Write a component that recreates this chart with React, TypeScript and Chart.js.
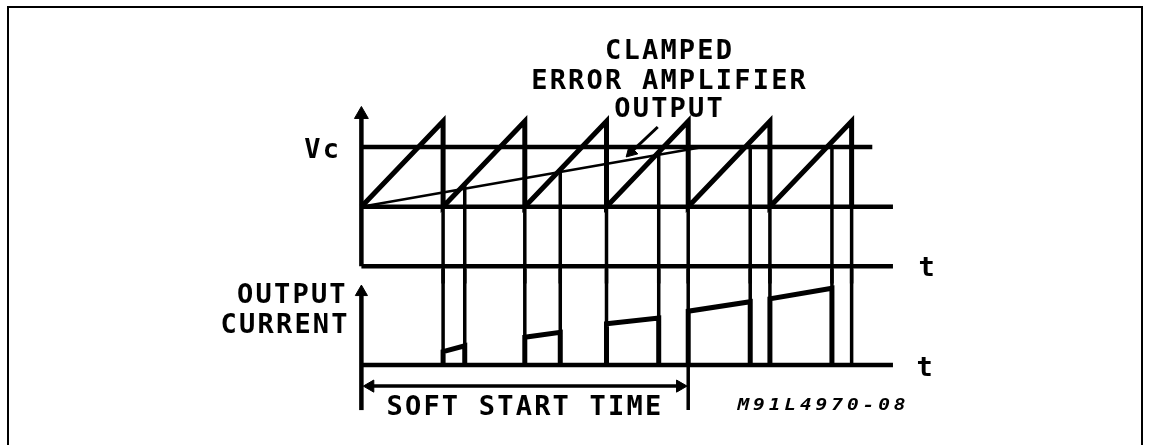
import React, { useEffect, useRef } from 'react';
import { Chart, registerables } from 'chart.js';

Chart.register(...registerables);

// Time in switching periods, voltage in ramp-amplitude units, current in arbitrary units
const resetTimes = [1, 2, 3, 4, 5, 6];
const rampLow = 0;
const rampHigh = 1;
const vcLevel = 0.7;
const clampEnd = 4.18;
const crossTimes = [1.265, 2.434, 3.639, 4.759, 5.759];
const crossLevels = [0.265, 0.434, 0.639, 0.7, 0.7];
const pulseStartLevels = [0.14, 0.29, 0.43, 0.56, 0.69];
const pulseEndLevels = [0.2, 0.34, 0.49, 0.66, 0.8];
const softStartEnd = 4;
const timeAxisEnd = 6.506;
const vcLineEnd = 6.253;
const lowerTimeAxisLevel = -0.697;

type P = { x: number; y: number };

const sawtooth: P[] = [{ x: 0, y: rampLow }];
resetTimes.forEach((t) => {
  sawtooth.push({ x: t, y: rampHigh });
  sawtooth.push({ x: t, y: rampLow });
});

const upperConnectors: P[][] = [];
resetTimes.forEach((t) => upperConnectors.push([{ x: t, y: rampLow }, { x: t, y: -0.9 }]));
crossTimes.forEach((t, i) => upperConnectors.push([{ x: t, y: crossLevels[i] }, { x: t, y: -0.9 }]));

const lowerConnectors: P[][] = [];
resetTimes.forEach((t, i) => {
  const end = i < pulseStartLevels.length ? pulseStartLevels[i] : 0;
  lowerConnectors.push([{ x: t, y: 1.0 }, { x: t, y: end }]);
});
crossTimes.forEach((t, i) => lowerConnectors.push([{ x: t, y: 1.0 }, { x: t, y: pulseEndLevels[i] }]));

const pulses: P[][] = pulseStartLevels.map((h, i) => [
  { x: resetTimes[i], y: 0 },
  { x: resetTimes[i], y: h },
  { x: crossTimes[i], y: pulseEndLevels[i] },
  { x: crossTimes[i], y: 0 },
]);

const labels = [
  { text: 'CLAMPED', t: 3.759, v: 1.73, axis: 'yV', align: 'center', big: true },
  { text: 'ERROR AMPLIFIER', t: 3.759, v: 1.382, axis: 'yV', align: 'center', big: true },
  { text: 'OUTPUT', t: 3.759, v: 1.045, axis: 'yV', align: 'center', big: true },
  { text: 'Vc', t: -0.699, v: 0.573, axis: 'yV', align: 'left', big: true },
  { text: 't', t: 6.82, v: -0.809, axis: 'yV', align: 'left', big: true },
  { text: 't', t: 6.795, v: -0.11, axis: 'yI', align: 'left', big: true },
  { text: 'OUTPUT', t: -0.193, v: 0.65, axis: 'yI', align: 'right', big: true },
  { text: 'CURRENT', t: -0.169, v: 0.33, axis: 'yI', align: 'right', big: true },
  { text: 'SOFT START TIME', t: 1.988, v: -0.52, axis: 'yI', align: 'center', big: true },
  { text: 'M91L4970-08', t: 4.602, v: -0.47, axis: 'yI', align: 'left', big: false },
];

const textPlugin = {
  id: 'diagramText',
  afterDraw(chart: any) {
    const ctx = chart.ctx as CanvasRenderingContext2D;
    const xs = chart.scales.x;
    labels.forEach((l) => {
      const sx = l.big ? 1.0 : 1.3;
      const sp = l.big ? 2.2 : 3.0;
      ctx.save();
      ctx.fillStyle = '#000';
      ctx.textBaseline = 'alphabetic';
      ctx.font = l.big ? 'bold 27px "DejaVu Sans Mono"' : 'italic bold 15px "DejaVu Sans Mono"';
      (ctx as any).letterSpacing = sp + 'px';
      ctx.textAlign = l.align as CanvasTextAlign;
      const shift = l.align === 'right' ? sp * sx : l.align === 'center' ? (sp * sx) / 2 : 0;
      const px = xs.getPixelForValue(l.t) + shift;
      const py = chart.scales[l.axis].getPixelForValue(l.v);
      ctx.translate(px, py);
      ctx.scale(sx, 1);
      ctx.fillText(l.text, 0, 0);
      ctx.restore();
    });
  },
};

const line = (data: P[], yAxisID: string, width: number, extra: any = {}) => ({
  data,
  yAxisID,
  showLine: true,
  borderColor: '#000',
  backgroundColor: '#000',
  borderWidth: width,
  borderJoinStyle: 'miter',
  pointRadius: 0,
  pointHoverRadius: 0,
  pointStyle: 'triangle',
  pointBackgroundColor: '#000',
  pointBorderColor: '#000',
  pointBorderWidth: 1,
  ...extra,
});

export default function App() {
  const ref = useRef<HTMLCanvasElement>(null);
  useEffect(() => {
    const chart = new Chart(ref.current!, {
      type: 'scatter',
      data: {
        datasets: [
          line([{ x: 0, y: lowerTimeAxisLevel }, { x: 0, y: 1.08 }], 'yV', 4.5, { pointRadius: [0, 8], pointRotation: [0, 0] }),
          line([{ x: 0, y: vcLevel }, { x: vcLineEnd, y: vcLevel }], 'yV', 4.5),
          line([{ x: 0, y: rampLow }, { x: timeAxisEnd, y: rampLow }], 'yV', 4.5),
          line([{ x: 0, y: lowerTimeAxisLevel }, { x: timeAxisEnd, y: lowerTimeAxisLevel }], 'yV', 4.5),
          line([{ x: 0, y: rampLow }, { x: clampEnd, y: vcLevel }], 'yV', 2.5),
          line(sawtooth, 'yV', 5),
          ...upperConnectors.map((seg) => line(seg, 'yV', 3.5)),
          line([{ x: 3.627, y: 0.933 }, { x: 3.301, y: 0.64 }], 'yV', 3, { pointRadius: [0, 7], pointRotation: [0, 225] }),
          ...lowerConnectors.map((seg) => line(seg, 'yI', 3.5)),
          ...pulses.map((seg) => line(seg, 'yI', 5)),
          line([{ x: 0, y: 0 }, { x: timeAxisEnd, y: 0 }], 'yI', 4.5),
          line([{ x: 0, y: -0.47 }, { x: 0, y: 0.76 }], 'yI', 4.5, { pointRadius: [0, 7], pointRotation: [0, 0] }),
          line([{ x: softStartEnd, y: 0 }, { x: softStartEnd, y: -0.47 }], 'yI', 3.5),
          line([{ x: 0.109, y: -0.22 }, { x: softStartEnd - 0.1, y: -0.22 }], 'yI', 3.5, { pointRadius: [7, 7], pointRotation: [270, 90] }),
        ] as any,
      },
      options: {
        responsive: false,
        devicePixelRatio: 1,
        animation: false,
        events: [],
        layout: { padding: 0 },
        plugins: { legend: { display: false }, tooltip: { enabled: false } },
        scales: {
          x: { type: 'linear', display: false, min: -4.313, max: 9.554 },
          yV: { type: 'linear', display: false, min: -2.685, max: 2.315 },
          yI: { type: 'linear', display: false, min: -0.74, max: 3.71 },
        },
      },
      plugins: [textPlugin],
    } as any);
    return () => chart.destroy();
  }, []);
  return (
    <div>
      <div
        style={{
          position: 'fixed',
          left: 7,
          top: 6,
          width: 1132,
          height: 470,
          border: '2px solid #000',
          boxSizing: 'content-box',
        }}
      />
      <canvas
        ref={ref}
        width={1151}
        height={445}
        style={{ position: 'fixed', left: 0, top: 0, width: 1151, height: 445 }}
      />
    </div>
  );
}
